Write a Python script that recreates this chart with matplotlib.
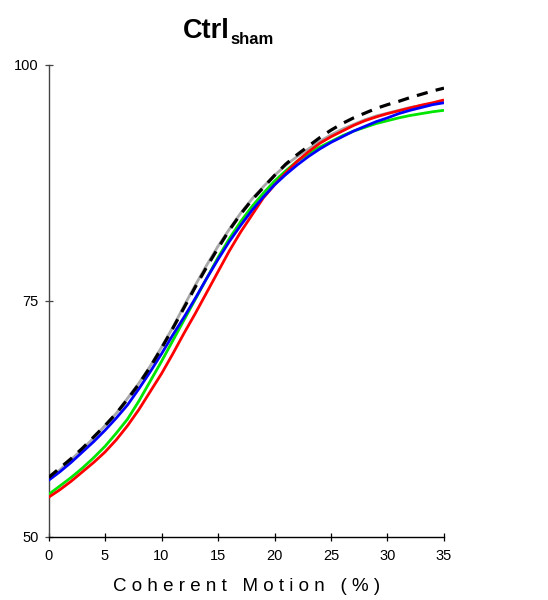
import matplotlib
matplotlib.use("Agg")
import matplotlib.pyplot as plt

plt.rcParams["font.family"] = ["Liberation Sans", "DejaVu Sans"]

# Coherence levels (%)
coherence = list(range(0, 36))

# Fitted percent-correct curves
sham_black = [56.3, 57.3, 58.3, 59.4, 60.6, 61.8, 63.1, 64.6, 66.2, 68.0,
              70.0, 72.1, 74.3, 76.5, 78.6, 80.6, 82.5, 84.2, 85.7, 87.0,
              88.3, 89.5, 90.5, 91.4, 92.3, 93.1, 93.8, 94.4, 94.9, 95.4,
              95.8, 96.15, 96.55, 96.9, 97.25, 97.55]
sham_gray = [56.1, 57.1, 58.2, 59.3, 60.5, 61.8, 63.1, 64.7, 66.3, 68.1,
             70.1, 72.2, 74.5, 76.7, 78.8, 80.8, 82.6, 84.3, 85.8, 87.1,
             88.3, 89.4, 90.3, 91.1, 91.9, 92.6, 93.2, 93.7, 94.2, 94.6,
             94.9, 95.2, 95.5, 95.7, 95.9, 96.1]
sham_green = [54.5, 55.4, 56.3, 57.3, 58.4, 59.6, 61.0, 62.5, 64.4, 66.5,
              68.6, 70.8, 73.0, 75.2, 77.4, 79.6, 81.6, 83.4, 85.0, 86.4,
              87.7, 88.8, 89.8, 90.6, 91.3, 91.9, 92.5, 93.0, 93.4, 93.8,
              94.1, 94.4, 94.65, 94.85, 95.05, 95.2]
sham_red = [54.2, 55.0, 55.9, 56.9, 57.9, 59.0, 60.3, 61.8, 63.5, 65.4,
            67.3, 69.4, 71.6, 73.7, 75.9, 78.1, 80.3, 82.3, 84.1, 85.9,
            87.3, 88.6, 89.8, 90.8, 91.7, 92.4, 93.0, 93.6, 94.1, 94.5,
            94.85, 95.15, 95.45, 95.75, 96.0, 96.3]
sham_blue = [56.0, 56.9, 57.9, 59.0, 60.1, 61.3, 62.6, 64.0, 65.7, 67.5,
             69.4, 71.4, 73.3, 75.3, 77.4, 79.4, 81.3, 83.0, 84.6, 86.0,
             87.3, 88.4, 89.4, 90.3, 91.1, 91.8, 92.4, 93.0, 93.5, 94.0,
             94.4, 94.85, 95.2, 95.5, 95.8, 96.0]

x_ticks = [0, 5, 10, 15, 20, 25, 30, 35]
y_ticks = [50, 75, 100]

fig = plt.figure(figsize=(5.48, 6.0), dpi=100)
ax = fig.add_axes([48.5 / 548, 1 - 537 / 600, (444 - 48.5) / 548, (537 - 65) / 600])

lw = 2.0
style = dict(solid_joinstyle="round", solid_capstyle="butt")
ax.plot(coherence, sham_gray, color="#a8a8a8", lw=lw, zorder=2, **style)
ax.plot(coherence, sham_green, color="#00e600", lw=lw, zorder=3, **style)
ax.plot(coherence, sham_red, color="#ff0000", lw=lw, zorder=4, **style)
ax.plot(coherence, sham_blue, color="#0000ff", lw=lw, zorder=5, **style)
ax.plot(coherence, sham_black, color="black", lw=2.3, ls=(0, (3.5, 2.6)), zorder=6)

ax.set_xlim(0, 35)
ax.set_ylim(50, 100)
ax.set_xticks(x_ticks)
ax.set_yticks(y_ticks)

for side in ("top", "right"):
    ax.spines[side].set_visible(False)
ax.spines["left"].set_color("#444444")
ax.spines["bottom"].set_color("black")
ax.spines["left"].set_linewidth(1.0)
ax.spines["bottom"].set_linewidth(1.0)

ax.tick_params(axis="both", direction="inout", length=6, width=0.9, labelsize=10.5)
ax.tick_params(axis="x", pad=6)
ax.tick_params(axis="y", pad=4, colors="#444444", labelcolor="black")

# Axis label, letter-spaced
fig.text(247 / 548, 1 - 591 / 600, "C o h e r e n t   M o t i o n   ( % )",
         fontsize=13.5, ha="center", va="baseline")

# Title with subscript
fig.text(183 / 548, 1 - 38.5 / 600, "Ctrl", fontsize=19.5, fontweight="bold",
         ha="left", va="baseline")
fig.text(230 / 548, 1 - 44 / 600, "sham", fontsize=12, fontweight="bold",
         ha="left", va="baseline")

fig.savefig("out.png", dpi=100)
